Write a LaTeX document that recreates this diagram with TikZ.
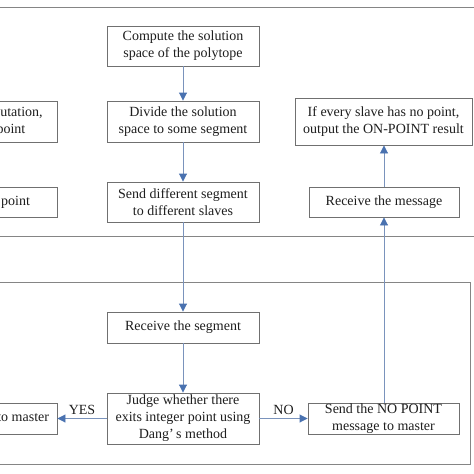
\documentclass[tikz,border=0pt]{standalone}
\usepackage{fontspec}
\setmainfont{Liberation Serif}
\usetikzlibrary{arrows.meta}
\definecolor{framec}{HTML}{858585}
\definecolor{boxc}{HTML}{707070}
\definecolor{linec}{HTML}{7A93BC}
\definecolor{headc}{HTML}{4A72B0}
\definecolor{txtc}{HTML}{1E1E1E}
\tikzset{
  box/.style={draw=boxc, line width=0.9pt, fill=white, text=txtc, align=center,
    font=\fontsize{14}{17}\selectfont, inner sep=0pt, minimum width=#1},
  box/.default=152pt,
  frame/.style={draw=framec, line width=0.9pt},
  conn/.style={draw=linec, line width=0.9pt, -{Triangle[width=8pt,length=8pt,color=headc]}},
  lab/.style={text=txtc, font=\fontsize{14}{17}\selectfont, inner sep=0pt}
}
\begin{document}
\begin{tikzpicture}[x=1pt,y=-1pt]
\useasboundingbox (0,0) rectangle (474,474);
\clip (0,0) rectangle (474,474);
% frames
\path[frame] (-10,7) rectangle (490,236);
\path[frame] (-10,282) rectangle (470,464);
% master column
\node[box, minimum height=40pt] (comp) at (183,46) {Compute the solution\\space of the polytope};
\node[box, minimum height=41pt] (div) at (183,121.5) {Divide the solution\\space to some segment};
\node[box, minimum height=40pt] (send) at (183,202) {Send different segment\\to different slaves};
% left column (clipped)
\node[box, minimum height=41pt] (stop) at (-19,121.5) {Stop the computation,\\output the point};
\node[box, minimum height=30pt] (recvp) at (-19,202) {Receive the point};
% right column
\node[box=177pt, minimum height=47pt] (ifev) at (383.5,121.5) {If every slave has no point,\\output the ON-POINT result};
\node[box=150pt, minimum height=30pt] (recvm) at (384,202) {Receive the message};
% slave
\node[box, minimum height=31pt] (recvs) at (183,327.5) {Receive the segment};
\node[box, minimum height=51pt] (judge) at (183,418.5) {Judge whether there\\exits integer point using\\Dang’\,s method};
\node[box, minimum height=31pt] (sendp) at (-19,418.5) {Send the point to master};
\node[box=151pt, minimum height=31pt] (sendno) at (383.5,418.5) {Send the NO POINT\\message to master};
% connectors
\draw[conn] (comp) -- (div);
\draw[conn] (div) -- (send);
\draw[conn] (send) -- (recvs);
\draw[conn] (recvs) -- (judge);
\draw[conn] (judge.west) -- (sendp.east) node[lab, midway, above=3pt] {YES};
\draw[conn] (judge.east) -- (sendno.west) node[lab, midway, above=3pt] {NO};
\draw[conn] (sendno.north -| recvm) -- (recvm.south);
\draw[conn] (recvm.north) -- (ifev.south -| recvm);
\draw[conn] (sendp) -- (recvp);
\draw[conn] (recvp) -- (stop);
\end{tikzpicture}
\end{document}
